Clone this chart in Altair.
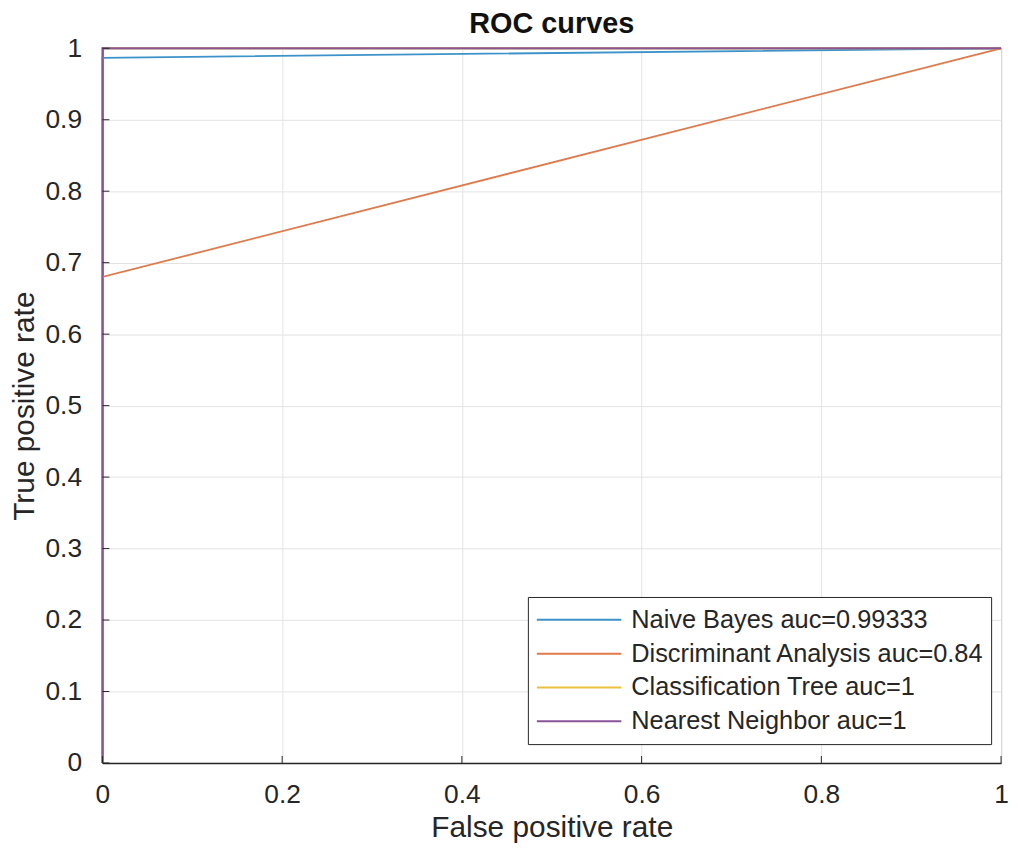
import altair as alt
import pandas as pd

# ---- data ----
models = [
    "Naive Bayes auc=0.99333",
    "Discriminant Analysis auc=0.84",
    "Classification Tree auc=1",
    "Nearest Neighbor auc=1",
]
colors = ["#3d93c9", "#e07a4c", "#edc03e", "#8a5598"]

fpr_nb = [0.0, 0.0, 1.0]
tpr_nb = [0.0, 0.98667, 1.0]
fpr_da = [0.0, 0.0, 1.0]
tpr_da = [0.0, 0.68, 1.0]
fpr_ct = [0.0, 0.0, 1.0]
tpr_ct = [0.0, 1.0, 1.0]
fpr_nn = [0.0, 0.0, 1.0]
tpr_nn = [0.0, 1.0, 1.0]

x_ticks = [0, 0.2, 0.4, 0.6, 0.8, 1]
y_ticks = [0, 0.1, 0.2, 0.3, 0.4, 0.5, 0.6, 0.7, 0.8, 0.9, 1]

series = [(fpr_nb, tpr_nb), (fpr_da, tpr_da), (fpr_ct, tpr_ct), (fpr_nn, tpr_nn)]
rows = []
for m, (xs, ys) in zip(models, series):
    for i, (a, b) in enumerate(zip(xs, ys)):
        rows.append({"model": m, "fpr": a, "tpr": b, "step": i})
df = pd.DataFrame(rows)

FONT = "Liberation Sans"
TXT = "#262626"
W, H = 904, 719

xscale = alt.Scale(domain=[0, 1], nice=False, zero=False)
yscale = alt.Scale(domain=[0, 1], nice=False, zero=False)
cscale = alt.Scale(domain=models, range=colors)

xaxis = alt.Axis(
    title="False positive rate", values=x_ticks, format="~g", grid=True,
    tickSize=0, labelPadding=19, titlePadding=4, labelFlush=False,
)
yaxis = alt.Axis(
    title="True positive rate", values=y_ticks, format="~g", grid=True,
    tickSize=0, labelPadding=21, titlePadding=6,
)

legend = alt.Legend(
    title=None, orient="none", legendX=428, legendY=552,
    symbolType="stroke", symbolSize=7225, symbolStrokeWidth=2,
    symbolOffset=2, labelOffset=9, clipHeight=34, rowPadding=0,
    labelFontSize=25.5, labelFont=FONT, labelColor=TXT, labelLimit=600,
    padding=6, strokeColor=TXT, fillColor="white",
)

layers = []
for i, m in enumerate(models):
    layers.append(
        alt.Chart(df)
        .transform_filter(alt.datum.model == m)
        .mark_line(strokeWidth=1.8, clip=False)
        .encode(
            x=alt.X("fpr:Q", scale=xscale, axis=xaxis),
            y=alt.Y("tpr:Q", scale=yscale, axis=yaxis),
            order=alt.Order("step:Q"),
            color=alt.Color("model:N", scale=cscale, sort=models, legend=legend),
        )
    )

tx = pd.DataFrame({"v": x_ticks})
ty = pd.DataFrame({"v": y_ticks})
xt = alt.Chart(tx).mark_rule(color=TXT, strokeWidth=1).encode(
    x=alt.X("v:Q", scale=xscale, axis=xaxis),
    y=alt.value(H),
    y2=alt.value(H - 7),
)
yt = alt.Chart(ty).mark_rule(color=TXT, strokeWidth=1).encode(
    y=alt.Y("v:Q", scale=yscale, axis=yaxis),
    x=alt.value(0),
    x2=alt.value(7),
)

chart = (
    alt.layer(*layers, xt, yt)
    .properties(
        width=W, height=H,
        title=alt.Title("ROC curves", fontSize=29, font=FONT, fontWeight="bold",
                        color="#111111", anchor="middle", offset=-4),
        autosize=alt.AutoSizeParams(type="none"),
        padding={"left": 95, "top": 38, "right": 9, "bottom": 80},
    )
    .configure_view(stroke=TXT, strokeWidth=1)
    .configure_axis(
        labelFont=FONT, titleFont=FONT, labelFontSize=26.5, titleFontSize=30,
        labelColor=TXT, titleColor=TXT, titleFontWeight="normal",
        domainColor=TXT, domainWidth=1.5, gridColor="#e3e3e3", gridWidth=1,
    )
)

chart.save("out.html", embed_options={"renderer": "svg", "actions": False})
